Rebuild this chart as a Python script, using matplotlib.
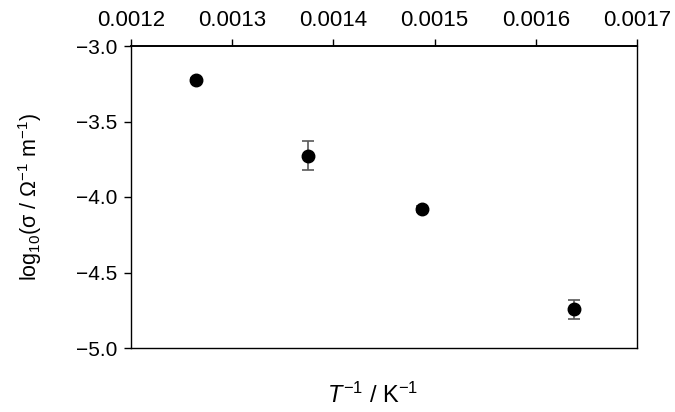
import numpy as np
import matplotlib.pyplot as plt
from matplotlib.ticker import FuncFormatter, MultipleLocator

plt.rcParams['font.family'] = ['Liberation Sans', 'DejaVu Sans']
plt.rcParams['mathtext.fontset'] = 'custom'
plt.rcParams['mathtext.rm'] = 'Liberation Sans'
plt.rcParams['mathtext.it'] = 'Liberation Sans:italic'

# inverse temperature (1/K) and log conductivity
inv_T = np.array([0.001264, 0.001375, 0.001488, 0.001638])
log_sigma = np.array([-3.225, -3.728, -4.079, -4.742])
log_sigma_err = np.array([0.01, 0.096, 0.02, 0.063])

fig = plt.figure(figsize=(6.75, 4.12), dpi=100)
ax = fig.add_axes([131 / 675, 1 - 348 / 412, (637 - 131) / 675, (348 - 46) / 412])

ax.errorbar(inv_T, log_sigma, yerr=log_sigma_err, fmt='o', color='black',
            ms=9, ecolor='#595959', elinewidth=1.2, capsize=4.5, capthick=1.2)

ax.set_xlim(0.0012, 0.0017)
ax.set_ylim(-5.0, -3.0)
ax.xaxis.set_major_locator(MultipleLocator(0.0001))
ax.xaxis.set_major_formatter(FuncFormatter(lambda v, p: f'{v:.4f}'))
ax.yaxis.set_major_locator(MultipleLocator(0.5))
ax.yaxis.set_major_formatter(FuncFormatter(lambda v, p: f'{v:.1f}'.replace('-', '\u2212')))

ax.xaxis.tick_top()
ax.tick_params(axis='x', direction='out', length=5, width=1, labelsize=16, pad=6)
ax.tick_params(axis='y', direction='out', length=5, width=1, labelsize=15, pad=5)
for s in ax.spines.values():
    s.set_linewidth(1.0)
ax.spines['top'].set_linewidth(1.4)

fig.text(30 / 675, 1 - 197 / 412, r'log$_{10}$(σ / Ω$^{-1}$ m$^{-1}$)',
         rotation=90, ha='center', va='center', fontsize=15.5)
fig.text(373 / 675, 1 - 395 / 412, r'$\mathit{T}^{-1}$ / K$^{-1}$',
         ha='center', va='center', fontsize=17)

fig.savefig('out.png', dpi=100)
